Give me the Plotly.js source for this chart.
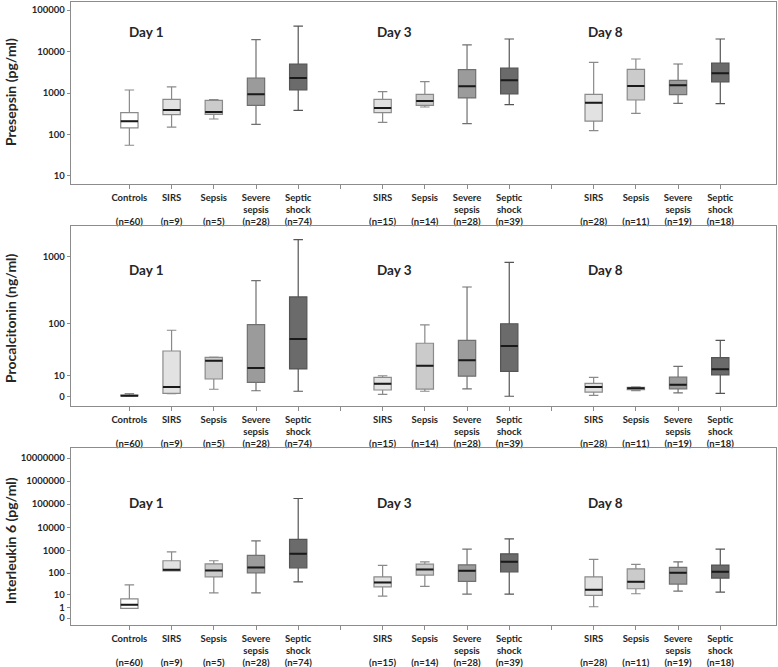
<!DOCTYPE html>
<html><head><meta charset="utf-8">
<script src="https://cdn.plot.ly/plotly-3.0.1.min.js"></script>
<style>html,body{margin:0;padding:0;background:#fff}#chart{width:778px;height:667px}</style>
</head><body><div id="chart"></div>
<script>
// ---- categories / labels ----
const categoryNames = ['Controls','SIRS','Sepsis','Severe sepsis','Septic shock','',
                       'SIRS','Sepsis','Severe sepsis','Septic shock','',
                       'SIRS','Sepsis','Severe sepsis','Septic shock'];
const sampleSizes = ['(n=60)','(n=9)','(n=5)','(n=28)','(n=74)','',
                     '(n=15)','(n=14)','(n=28)','(n=39)','',
                     '(n=28)','(n=11)','(n=19)','(n=18)'];
const dayLabels = ['Day 1','Day 3','Day 8'];
// positions of the 13 boxes on the category axis (gaps at 6 and 11)
const boxPositions = [1,2,3,4,5, 7,8,9,10, 12,13,14,15];
const boxGroup     = [0,1,2,3,4, 1,2,3,4, 1,2,3,4];
const groupNames = ['Controls','SIRS','Sepsis','Severe sepsis','Septic shock'];

// ---- Presepsin (pg/ml) ----
const presepsinLower  = [55, 151, 236, 176, 383, 197, 460, 182, 525, 124, 324, 564, 552];
const presepsinQ1     = [144, 300, 306, 506, 1180, 335, 506, 760, 946, 211, 678, 912, 1840];
const presepsinMedian = [208, 390, 348, 930, 2300, 435, 641, 1450, 2020, 585, 1475, 1530, 2980];
const presepsinQ3     = [335, 705, 667, 2300, 5000, 705, 930, 3650, 4000, 930, 3720, 2020, 5290];
const presepsinUpper  = [1180, 1400, 690, 19300, 41100, 1075, 1875, 14400, 20000, 5500, 6600, 5000, 20000];

// ---- Procalcitonin (ng/ml) ----
const pctLower  = [0.05, 0.9, 2.6, 2.0, 1.8, 0.67, 1.8, 2.8, 0.0, 0.3, 2.0, 1.2, 1.0];
const pctQ1     = [0.1, 1.0, 7.7, 5.8, 14.7, 2.3, 2.7, 9.4, 12.8, 1.5, 2.4, 2.8, 10.2];
const pctMedian = [0.2, 3.6, 22.4, 15.5, 56.5, 5.1, 17.5, 22.9, 42.7, 3.6, 3.0, 4.6, 14.4];
const pctQ3     = [0.35, 34.7, 26.3, 96.7, 257, 8.7, 47.7, 53.7, 100, 5.3, 3.46, 8.9, 25.8];
const pctUpper  = [0.9, 78.8, 26.5, 447, 1764, 9.7, 95.7, 361, 831, 8.7, 3.6, 16.9, 53.7];

// ---- Interleukin 6 (pg/ml) ----
const il6Lower  = [0.75, 127, 12.1, 12.1, 40.9, 8.1, 25.0, 10.4, 10.4, 1.27, 10.8, 14.8, 13.2];
const il6Q1     = [0.75, 127, 68.8, 103.6, 172, 23.9, 81.8, 42.7, 114.7, 8.8, 19.2, 32.1, 60];
const il6Median = [2.1, 140.6, 132, 179, 703, 38.3, 146, 127, 315, 17.2, 40.9, 103.6, 114.7];
const il6Q3     = [5.6, 350, 257, 600, 2951, 68.8, 249, 233, 703, 68.8, 155.5, 179, 226];
const il6Upper  = [29.7, 857, 350, 2565, 175400, 219, 315, 1122, 3133, 400, 242, 315, 1122];

// ---- tick labels ----
const presepsinTicks = [10, 100, 1000, 10000, 100000];
const pctTicks = [0, 10, 100, 1000];
const il6Ticks = [0, 1, 10, 100, 1000, 10000, 100000, 1000000, 10000000];

// ---- styling ----
const FONT = 'Lato, "Open Sans", sans-serif';
const TXT = '#262626';
const fills = ['#ffffff','#e2e2e2','#cbcbcb','#9b9b9b','#6b6b6b'];
const lines = ['#8a8a8a','#8a8a8a','#8a8a8a','#707070','#555555'];
const AX = '#8c8c8c';

// axis offsets (the y axes are log of value + offset)
const pctOffset = 10;
const il6Offset = 2.3;
const il6ZeroTickPos = 1.16; // where the "0" label sits on the IL-6 axis

const panels = [
  {lo: presepsinLower, q1: presepsinQ1, med: presepsinMedian, q3: presepsinQ3, hi: presepsinUpper, off: 0},
  {lo: pctLower, q1: pctQ1, med: pctMedian, q3: pctQ3, hi: pctUpper, off: pctOffset},
  {lo: il6Lower, q1: il6Q1, med: il6Median, q3: il6Q3, hi: il6Upper, off: il6Offset}
];

const BOXW = 0.41;
const traces = [];
panels.forEach((p, pi) => {
  const xa = pi === 0 ? 'x' : 'x' + (pi + 1);
  const ya = pi === 0 ? 'y' : 'y' + (pi + 1);
  const t = v => v + p.off;
  groupNames.forEach((g, gi) => {
    const idx = boxGroup.map((bg, i) => bg === gi ? i : -1).filter(i => i >= 0);
    traces.push({
      type: 'box', name: g, xaxis: xa, yaxis: ya, showlegend: false, hoverinfo: 'skip',
      x: idx.map(i => boxPositions[i]),
      lowerfence: idx.map(i => t(p.lo[i])),
      q1: idx.map(i => t(p.q1[i])),
      median: idx.map(i => t(p.med[i])),
      q3: idx.map(i => t(p.q3[i])),
      upperfence: idx.map(i => t(p.hi[i])),
      width: BOXW, whiskerwidth: 0.55,
      fillcolor: fills[gi], line: {color: lines[gi], width: 1.2},
      boxpoints: false
    });
  });
  // median lines drawn darker
  traces.push({
    type: 'box', name: 'median', xaxis: xa, yaxis: ya, showlegend: false, hoverinfo: 'skip',
    x: boxPositions,
    lowerfence: p.med.map(t), q1: p.med.map(t), median: p.med.map(t), q3: p.med.map(t), upperfence: p.med.map(t),
    width: BOXW, whiskerwidth: 0,
    fillcolor: 'rgba(0,0,0,0)', line: {color: '#1a1a1a', width: 2}, boxpoints: false
  });
});

const tickText = categoryNames.map((c, i) => {
  if (!c) return '';
  const parts = c.split(' ');
  const l1 = parts[0];
  const l2 = parts.length > 1 ? parts.slice(1).join(' ') : ' ';
  return l1 + '<br>' + l2 + '<br>' + sampleSizes[i];
});
const tickVals = categoryNames.map((c, i) => i + 1);

const H = 667;
const dom = (topPx, botPx) => [(H - botPx) / H, (H - topPx) / H];
const xBase = {
  range: [-0.383, 16.32], tickvals: tickVals, ticktext: tickText,
  ticks: 'outside', ticklen: 4, tickcolor: AX, tickwidth: 1,
  showline: true, linecolor: AX, linewidth: 1.3, mirror: true,
  showgrid: false, zeroline: false, fixedrange: true,
  tickfont: {family: FONT, size: 9.5, color: TXT, weight: 700}
};
const yBase = {
  type: 'log', ticks: 'outside', ticklen: 3, tickcolor: AX,
  showline: true, linecolor: AX, linewidth: 1.3, mirror: true,
  showgrid: false, zeroline: false, fixedrange: true,
  tickfont: {family: FONT, size: 9.5, color: TXT, weight: 700}
};
const lg = Math.log10;
const layout = {
  width: 778, height: 667, margin: {l: 71, r: 2, t: 0, b: 0},
  paper_bgcolor: '#fff', plot_bgcolor: '#fff', boxmode: 'overlay', showlegend: false,
  xaxis:  Object.assign({}, xBase, {domain: [0, 1], anchor: 'y'}),
  xaxis2: Object.assign({}, xBase, {domain: [0, 1], anchor: 'y2'}),
  xaxis3: Object.assign({}, xBase, {domain: [0, 1], anchor: 'y3'}),
  yaxis: Object.assign({}, yBase, {domain: dom(2, 184), anchor: 'x', range: [0.807, 5.193],
    tickvals: presepsinTicks, ticktext: presepsinTicks.map(String)}),
  yaxis2: Object.assign({}, yBase, {domain: dom(226, 406), anchor: 'x2', range: [0.860, 3.446],
    tickvals: pctTicks.map(v => v + pctOffset), ticktext: pctTicks.map(String)}),
  yaxis3: Object.assign({}, yBase, {domain: dom(448, 625), anchor: 'x3', range: [-0.238, 7.434],
    tickvals: il6Ticks.map(v => v === 0 ? il6ZeroTickPos : v + il6Offset), ticktext: il6Ticks.map(String)}),
  annotations: []
};
const titles = ['Presepsin (pg/ml)', 'Procalcitonin (ng/ml)', 'Interleukin 6 (pg/ml)'];
const titleY = [92, 318, 541];
titles.forEach((tt, i) => layout.annotations.push({
  text: tt, xref: 'paper', yref: 'paper', x: (10 - 71) / 705, y: (H - titleY[i]) / H,
  xanchor: 'center', yanchor: 'middle', textangle: -90, showarrow: false,
  font: {family: FONT, size: 14, color: TXT, weight: 700}
}));
const dayY = [32, 270, 503];
const dayX = [0.95, 6.81, 11.81];
dayY.forEach(py => dayLabels.forEach((d, j) => layout.annotations.push({
  text: d, xref: 'x', yref: 'paper', x: dayX[j], y: (H - py) / H,
  xanchor: 'left', yanchor: 'middle', showarrow: false,
  font: {family: FONT, size: 13.5, color: TXT, weight: 700}
})));

Plotly.newPlot('chart', traces, layout, {staticPlot: true, displayModeBar: false});
</script></body></html>
